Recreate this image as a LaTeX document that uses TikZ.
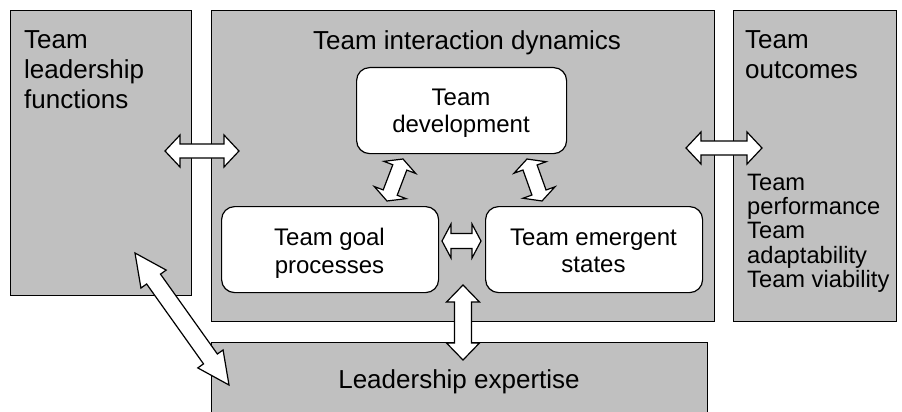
\documentclass[tikz,border=0pt]{standalone}
\usepackage{fontspec}
\setmainfont{Liberation Sans}
\usetikzlibrary{calc}
\definecolor{boxgray}{RGB}{192,192,192}
\tikzset{
  outerbox/.style={draw=black, fill=boxgray, line width=1.2pt, rectangle, inner sep=0pt, anchor=north west},
  innerbox/.style={draw=black, fill=white, line width=1.2pt, rectangle, rounded corners=13pt, inner sep=0pt, anchor=north west},
  hdr/.style={inner sep=0pt, anchor=north west, align=left, font=\fontsize{26}{30}\selectfont},
  listtxt/.style={inner sep=0pt, anchor=north west, align=left, font=\fontsize{23.7}{24.2}\selectfont},
  innertxt/.style={inner sep=0pt, anchor=north, align=center, font=\fontsize{24}{27.5}\selectfont},
  arrowshape/.style={draw=black, fill=white, line width=1.2pt, line join=miter},
}
% #1 tip A, #2 tip B, #3 half head width, #4 half shaft width, #5 head length
\newcommand\blockarrow[5]{%
  \draw[arrowshape] (#1)
    -- ($(#1)!#5!(#2)!#3!90:(#2)$)
    -- ($(#1)!#5!(#2)!#4!90:(#2)$)
    -- ($(#2)!#5!(#1)!#4!-90:(#1)$)
    -- ($(#2)!#5!(#1)!#3!-90:(#1)$)
    -- (#2)
    -- ($(#2)!#5!(#1)!#3!90:(#1)$)
    -- ($(#2)!#5!(#1)!#4!90:(#1)$)
    -- ($(#1)!#5!(#2)!#4!-90:(#2)$)
    -- ($(#1)!#5!(#2)!#3!-90:(#2)$)
    -- cycle;}
\begin{document}
\begin{tikzpicture}[x=1pt, y=-1pt]
  \useasboundingbox (0,0) rectangle (902,412);
  \clip (0,0) rectangle (902,412);
  % outer boxes
  \node[outerbox, minimum width=181pt, minimum height=285pt] (lead) at (10,10) {};
  \node[outerbox, minimum width=503pt, minimum height=311pt] (dyn) at (211,10) {};
  \node[outerbox, minimum width=163pt, minimum height=311pt] (outc) at (733,10) {};
  \node[outerbox, minimum width=496pt, minimum height=80pt] (expt) at (211,342) {};
  % inner boxes
  \node[innerbox, minimum width=210pt, minimum height=86pt] (dev) at (356,67) {};
  \node[innerbox, minimum width=217pt, minimum height=86pt] (goal) at (221,206) {};
  \node[innerbox, minimum width=217pt, minimum height=86pt] (emerg) at (485,206) {};
  % texts
  \node[hdr] (leadtxt) at (24,30) {Team\\leadership\\functions};
  \node[hdr] (dyntxt) at (313,30) {Team interaction dynamics};
  \node[hdr] (outctxt) at (745,30) {Team\\outcomes};
  \node[listtxt] (outclist) at (747,174) {Team\\performance\\Team\\adaptability\\Team viability};
  \node[innertxt] (devtxt) at (461,88.3) {Team\\development};
  \node[innertxt] (goaltxt) at (329.5,228.3) {Team goal\\processes};
  \node[innertxt] (emergtxt) at (593.5,228.3) {Team emergent\\states};
  \node[hdr, anchor=north] (expttxt) at (459,369.3) {Leadership expertise};
  % arrow end points
  \coordinate (a1a) at (165,151);  \coordinate (a1b) at (239,151);
  \coordinate (a2a) at (686,148);  \coordinate (a2b) at (762,148);
  \coordinate (a3a) at (442,241);  \coordinate (a3b) at (481,241);
  \coordinate (a4a) at (403,159);  \coordinate (a4b) at (387,201);
  \coordinate (a5a) at (527,159);  \coordinate (a5b) at (542,201);
  \coordinate (a6a) at (463,285);  \coordinate (a6b) at (463,360);
  \coordinate (a7a) at (135,253);  \coordinate (a7b) at (229,385);
  % arrows
  \blockarrow{a1a}{a1b}{16pt}{7pt}{15pt}
  \blockarrow{a2a}{a2b}{16pt}{7pt}{15pt}
  \blockarrow{a3a}{a3b}{17pt}{7.5pt}{9pt}
  \blockarrow{a4a}{a4b}{17pt}{7.5pt}{9pt}
  \blockarrow{a5a}{a5b}{17pt}{7.5pt}{9pt}
  \blockarrow{a6a}{a6b}{16.5pt}{8.5pt}{17pt}
  \blockarrow{a7a}{a7b}{15.5pt}{8.5pt}{32pt}
\end{tikzpicture}
\end{document}
